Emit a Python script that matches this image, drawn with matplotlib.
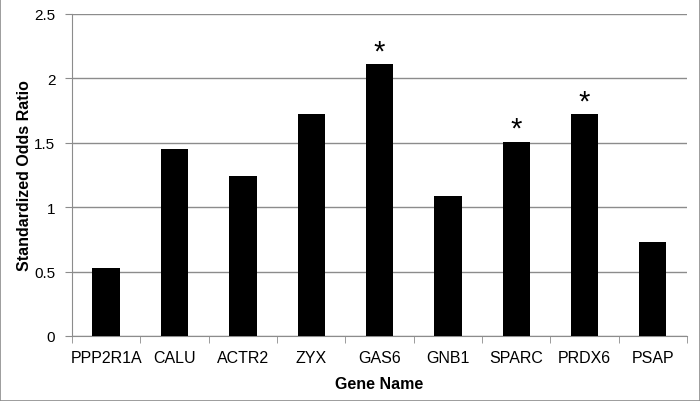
import matplotlib.pyplot as plt
import numpy as np

genes = ["PPP2R1A", "CALU", "ACTR2", "ZYX", "GAS6", "GNB1", "SPARC", "PRDX6", "PSAP"]
odds_ratio = [0.53, 1.45, 1.24, 1.72, 2.11, 1.09, 1.51, 1.72, 0.73]
significant = [False, False, False, False, True, False, True, True, False]
y_ticks = [0, 0.5, 1, 1.5, 2, 2.5]

plt.rcParams['font.family'] = ['Liberation Sans', 'DejaVu Sans']

fig = plt.figure(figsize=(7, 4.02), dpi=100)
ax = fig.add_axes([72 / 700, 1 - 337 / 402, (687 - 72) / 700, (337 - 15) / 402])

x = np.arange(len(genes))
ax.bar(x, odds_ratio, width=0.4, color="black", zorder=3)
for xi, v, sig in zip(x, odds_ratio, significant):
    if sig:
        ax.text(xi, v - 0.01, "*", ha="center", va="bottom", fontsize=21)

ax.set_xlim(-0.5, len(genes) - 0.5)
ax.set_ylim(0, 2.5)
ax.set_yticks(y_ticks)
ax.set_yticklabels([f"{t:g}" for t in y_ticks], fontsize=11)
ax.yaxis.grid(True, color="#8c8c8c", linewidth=1, zorder=0)

ax.set_xticks(x)
ax.set_xticklabels(genes, fontsize=11.5)
ax.tick_params(axis="x", length=0, pad=10)
ax.set_xticks(np.arange(-0.5, len(genes)), minor=True)
ax.tick_params(axis="x", which="minor", length=5, color="#8c8c8c", direction="out")
ax.tick_params(axis="y", length=5, color="#8c8c8c", direction="out", pad=7)

for side in ["top", "right"]:
    ax.spines[side].set_visible(False)
for side in ["left", "bottom"]:
    ax.spines[side].set_color("#8c8c8c")

ax.set_xlabel("Gene Name", fontsize=11.5, fontweight="bold", labelpad=8)
ax.set_ylabel("Standardized Odds Ratio", fontsize=11.5, fontweight="bold")
ax.yaxis.set_label_coords(-40 / 615, 0.5)

fig.patches.append(plt.Rectangle((0, 0), 1, 1, transform=fig.transFigure,
                                 fill=False, edgecolor="#8c8c8c", linewidth=1.2))

fig.savefig("out.png", dpi=100)
